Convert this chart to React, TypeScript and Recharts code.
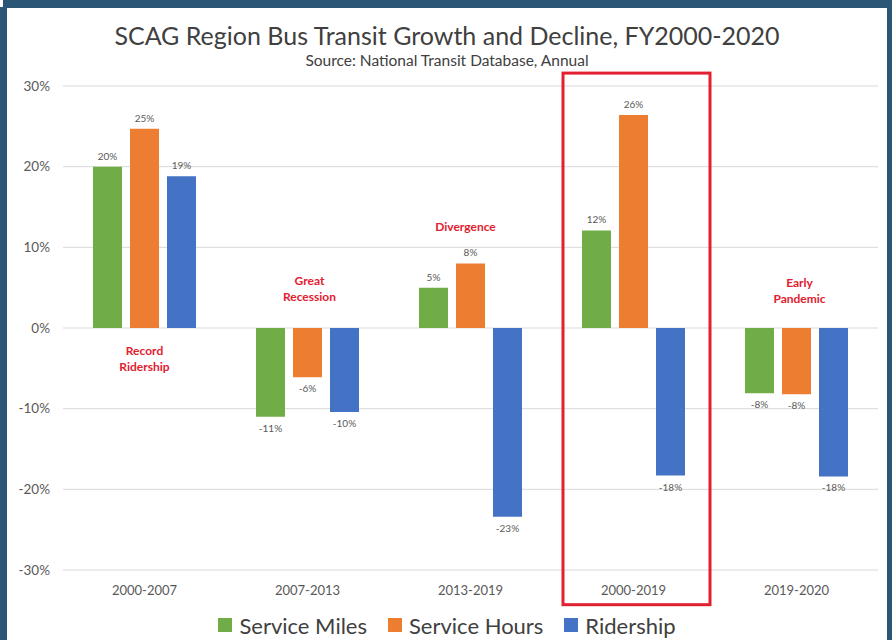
import React from 'react';
import {
  BarChart,
  Bar,
  XAxis,
  YAxis,
  CartesianGrid,
  Legend,
  LabelList,
  ReferenceDot,
  ReferenceArea,
} from 'recharts';

const categories = ['2000-2007', '2007-2013', '2013-2019', '2000-2019', '2019-2020'];
const serviceMiles = [20.0, -11.0, 5.0, 12.1, -8.1];
const serviceHours = [24.7, -6.1, 8.0, 26.4, -8.2];
const ridership = [18.8, -10.4, -23.4, -18.3, -18.4];
const yTicks = [-30, -20, -10, 0, 10, 20, 30];

const seriesNames = ['Service Miles', 'Service Hours', 'Ridership'];
const seriesColors = ['#70ad47', '#ed7d31', '#4472c4'];

const annotations = [
  { category: '2000-2007', y: -3.8, lines: ['Record', 'Ridership'], dx: 0 },
  { category: '2007-2013', y: 4.9, lines: ['Great', 'Recession'], dx: 2 },
  { category: '2013-2019', y: 12.6, lines: ['Divergence'], dx: -5 },
  { category: '2019-2020', y: 4.6, lines: ['Early', 'Pandemic'], dx: 3 },
];

const highlightCategory = '2000-2019';

const data = categories.map((c, i) => ({
  category: c,
  miles: serviceMiles[i],
  hours: serviceHours[i],
  ridership: ridership[i],
}));

const FONT = 'Lato, "Open Sans", sans-serif';
const RED = '#e2202f';

const renderValueLabel = (props: any) => {
  const { x, y, width, height, value } = props;
  const top = Math.min(y, y + height);
  const bottom = Math.max(y, y + height);
  const cx = x + width / 2;
  const pos = value >= 0;
  return (
    <text
      x={cx}
      y={pos ? top - 7 : bottom + 15}
      textAnchor="middle"
      fontSize={10}
      fontFamily={FONT}
      fill="#595959"
    >
      {Math.round(value)}%
    </text>
  );
};

const makeAnnotationShape = (lines: string[], dx: number) => (props: any) => {
  const { cx, cy } = props;
  const lh = 16;
  const start = cy - ((lines.length - 1) * lh) / 2;
  return (
    <g>
      {lines.map((l, i) => (
        <text
          key={i}
          x={cx + dx}
          y={start + i * lh}
          dy="0.35em"
          textAnchor="middle"
          fontSize={12}
          fontWeight={700}
          fontFamily={FONT}
          fill={RED}
        >
          {l}
        </text>
      ))}
    </g>
  );
};

const highlightShape = (props: any) => {
  const { x, y, width, height } = props;
  return (
    <rect
      x={x + 11}
      y={y}
      width={width - 16}
      height={height}
      fill="none"
      stroke={RED}
      strokeWidth={3}
    />
  );
};

const renderLegend = () => (
  <div
    style={{
      height: 40,
      paddingTop: 10,
      boxSizing: 'border-box',
      display: 'flex',
      justifyContent: 'center',
      alignItems: 'center',
      fontFamily: FONT,
      fontSize: 22,
      color: '#404040',
    }}
  >
    {seriesNames.map((n, i) => (
      <div key={n} style={{ display: 'flex', alignItems: 'center', marginRight: i < 2 ? 21 : 0 }}>
        <div style={{ width: 14, height: 14, background: seriesColors[i], marginRight: 7 }} />
        <span>{n}</span>
      </div>
    ))}
  </div>
);

export default function App() {
  return (
    <div
      style={{
        position: 'absolute',
        left: 0,
        top: 0,
        width: 892,
        height: 640,
        background: '#2b5676',
        overflow: 'hidden',
      }}
    >
      <div style={{ position: 'absolute', left: 0, top: 0, width: 3, height: 7, background: '#ffffff' }} />
      <div
        style={{
          position: 'absolute',
          left: 7,
          top: 8,
          width: 880,
          height: 632,
          background: '#ffffff',
        }}
      >
        <div
          style={{
            position: 'absolute',
            top: 12,
            left: 0,
            width: 880,
            textAlign: 'center',
            fontFamily: FONT,
            fontSize: 25,
            color: '#404040',
            lineHeight: '30px',
          }}
        >
          SCAG Region Bus Transit Growth and Decline, FY2000-2020
        </div>
        <div
          style={{
            position: 'absolute',
            top: 43,
            left: 0,
            width: 880,
            textAlign: 'center',
            fontFamily: FONT,
            fontSize: 15.5,
            color: '#404040',
            lineHeight: '18px',
          }}
        >
          Source: National Transit Database, Annual
        </div>
        <BarChart
          width={880}
          height={632}
          data={data}
          margin={{ top: 78, right: 9, left: 0, bottom: 0 }}
          barSize={29}
          barGap={8}
        >
          <CartesianGrid vertical={false} stroke="#d9d9d9" />
          <XAxis
            dataKey="category"
            axisLine={false}
            tickLine={false}
            tickSize={0}
            tickMargin={16}
            height={30}
            tick={{ fontSize: 13, fill: '#595959', fontFamily: FONT }}
          />
          <YAxis
            domain={[-30, 30]}
            ticks={yTicks}
            width={56}
            axisLine={false}
            tickLine={false}
            tickSize={0}
            tickMargin={13}
            tickFormatter={(v: number) => `${v}%`}
            tick={{ fontSize: 13.5, fill: '#595959', fontFamily: FONT }}
          />
          <Legend
            verticalAlign="bottom"
            content={renderLegend}
            wrapperStyle={{ left: 0, width: 880 }}
          />
          <Bar dataKey="miles" name={seriesNames[0]} fill={seriesColors[0]} isAnimationActive={false}>
            <LabelList dataKey="miles" content={renderValueLabel} />
          </Bar>
          <Bar dataKey="hours" name={seriesNames[1]} fill={seriesColors[1]} isAnimationActive={false}>
            <LabelList dataKey="hours" content={renderValueLabel} />
          </Bar>
          <Bar dataKey="ridership" name={seriesNames[2]} fill={seriesColors[2]} isAnimationActive={false}>
            <LabelList dataKey="ridership" content={renderValueLabel} />
          </Bar>
          {annotations.map((a) => (
            <ReferenceDot
              key={a.category}
              x={a.category}
              y={a.y}
              r={0}
              ifOverflow="visible"
              shape={makeAnnotationShape(a.lines, a.dx)}
            />
          ))}
          <ReferenceArea
            x1={highlightCategory}
            x2={highlightCategory}
            y1={-34.3}
            y2={31.6}
            ifOverflow="visible"
            shape={highlightShape}
          />
        </BarChart>
      </div>
    </div>
  );
}
